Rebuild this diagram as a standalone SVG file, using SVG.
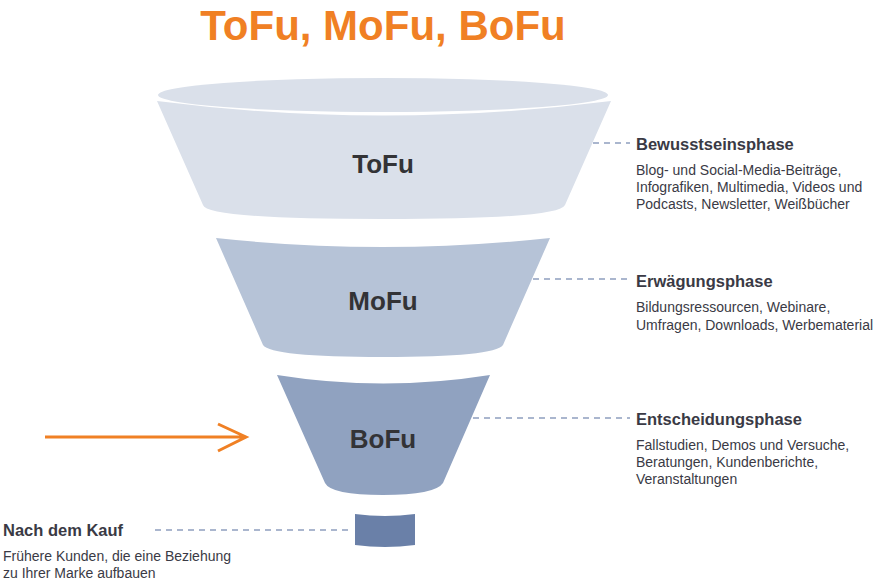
<svg xmlns="http://www.w3.org/2000/svg" width="883" height="586" viewBox="0 0 883 586">
<style>
text{font-family:"Liberation Sans",Arial,sans-serif}
.t{font-size:42px;font-weight:bold;fill:#f08024}
.n{font-size:26px;font-weight:bold;fill:#333336;text-anchor:middle}
.h{font-size:16.5px;font-weight:bold;fill:#3a3a45}
.d{font-size:14px;fill:#3a3a45}
.c{stroke:#8e9fbf;stroke-width:1.5;stroke-dasharray:6,5;fill:none}
</style>
<rect width="883" height="586" fill="#fff"/>
<text class="t" x="383" y="40" text-anchor="middle">ToFu, MoFu, BoFu</text>
<g id="connectors">
<line class="c" x1="593" y1="143" x2="630" y2="143" stroke="#cfd6e3"/>
<line class="c" x1="533" y1="279" x2="630" y2="279"/>
<line class="c" x1="473" y1="418" x2="630" y2="418"/>
<line class="c" x1="155" y1="530" x2="353" y2="530"/>
<path d="M45 437H246M218 424L246 437L218 451" stroke="#f08024" stroke-width="3" fill="none"/>
</g>
<g id="tofu">
<ellipse cx="383" cy="95" rx="225" ry="17" fill="#dae0ea"/>
<path d="M157 101Q383 130 611 101L565 205Q560 219 383 219Q206 219 203 205Z" fill="#dae0ea"/>
<text class="n" x="383" y="173">ToFu</text>
</g>
<g id="mofu">
<path d="M216 238Q383 256 550 238L503 345Q495 357 383 357Q271 357 263 345Z" fill="#b6c3d7"/>
<text class="n" x="383" y="310">MoFu</text>
</g>
<g id="bofu">
<path d="M277 375Q383 392 490 375L443 483Q435 495 383 495Q331 495 325 483Z" fill="#90a2c0"/>
<text class="n" x="383" y="448">BoFu</text>
</g>
<g id="after">
<path d="M355 514Q385 518 415 514V545Q385 549 355 545Z" fill="#6a80a8"/>
</g>
<g id="label-tofu">
<text class="h" x="636" y="150">Bewusstseinsphase</text>
<text class="d" x="636" y="175">Blog- und Social-Media-Beiträge,</text>
<text class="d" x="636" y="192">Infografiken, Multimedia, Videos und</text>
<text class="d" x="636" y="209">Podcasts, Newsletter, Weißbücher</text>
</g>
<g id="label-mofu">
<text class="h" x="636" y="287">Erwägungsphase</text>
<text class="d" x="636" y="312">Bildungsressourcen, Webinare,</text>
<text class="d" x="636" y="330">Umfragen, Downloads, Werbematerial</text>
</g>
<g id="label-bofu">
<text class="h" x="636" y="425">Entscheidungsphase</text>
<text class="d" x="636" y="450">Fallstudien, Demos und Versuche,</text>
<text class="d" x="636" y="467">Beratungen, Kundenberichte,</text>
<text class="d" x="636" y="484">Veranstaltungen</text>
</g>
<g id="label-after">
<text class="h" x="3" y="536">Nach dem Kauf</text>
<text class="d" x="3" y="561">Frühere Kunden, die eine Beziehung</text>
<text class="d" x="3" y="578">zu Ihrer Marke aufbauen</text>
</g>
</svg>
